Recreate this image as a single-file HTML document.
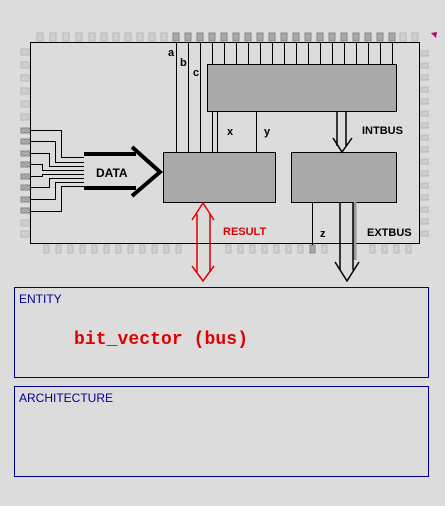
<!DOCTYPE html>
<html><head><style>body{margin:0;background:#dcdcdc;}svg{display:block}</style></head>
<body>
<svg width="445" height="506" viewBox="0 0 445 506" xmlns="http://www.w3.org/2000/svg" font-family="Liberation Sans, sans-serif">
<rect width="445" height="506" fill="#dcdcdc"/>
<g id="pins">
<g fill="#d0d0d0" stroke="#b8b8b8" stroke-width="1">
<rect x="37" y="33" width="6" height="8"/><rect x="50" y="33" width="6" height="8"/><rect x="63" y="33" width="6" height="8"/><rect x="76" y="33" width="6" height="8"/><rect x="89" y="33" width="6" height="8"/><rect x="101" y="33" width="6" height="8"/><rect x="113" y="33" width="6" height="8"/><rect x="125" y="33" width="6" height="8"/><rect x="137" y="33" width="6" height="8"/><rect x="149" y="33" width="6" height="8"/><rect x="161" y="33" width="6" height="8"/>
<rect x="400" y="33" width="6" height="8"/><rect x="412" y="33" width="6" height="8"/>
</g>
<g fill="#a8a8a8" stroke="#888" stroke-width="1">
<rect x="173" y="33" width="6" height="8"/><rect x="185" y="33" width="6" height="8"/><rect x="197" y="33" width="6" height="8"/><rect x="209" y="33" width="6" height="8"/><rect x="221" y="33" width="6" height="8"/><rect x="233" y="33" width="6" height="8"/><rect x="245" y="33" width="6" height="8"/><rect x="257" y="33" width="6" height="8"/><rect x="269" y="33" width="6" height="8"/><rect x="281" y="33" width="6" height="8"/><rect x="293" y="33" width="6" height="8"/><rect x="305" y="33" width="6" height="8"/><rect x="317" y="33" width="6" height="8"/><rect x="329" y="33" width="6" height="8"/><rect x="341" y="33" width="6" height="8"/><rect x="353" y="33" width="6" height="8"/><rect x="365" y="33" width="6" height="8"/><rect x="377" y="33" width="6" height="8"/><rect x="389" y="33" width="6" height="8"/>
</g>
<g fill="#d0d0d0" stroke="#b8b8b8">
<rect x="21" y="49" width="8" height="6"/><rect x="21" y="62" width="8" height="6"/><rect x="21" y="75" width="8" height="6"/><rect x="21" y="88" width="8" height="6"/><rect x="21" y="101" width="8" height="6"/><rect x="21" y="114" width="8" height="6"/><rect x="21" y="220" width="8" height="6"/><rect x="21" y="231" width="8" height="6"/>
</g>
<g fill="#a8a8a8" stroke="#888">
<rect x="21" y="128" width="9" height="5"/><rect x="21" y="139" width="9" height="5"/><rect x="21" y="151" width="9" height="5"/><rect x="21" y="162" width="9" height="5"/><rect x="21" y="174" width="9" height="5"/><rect x="21" y="185" width="9" height="5"/><rect x="21" y="197" width="9" height="5"/><rect x="21" y="208" width="9" height="5"/>
</g>
<g fill="#d0d0d0" stroke="#b8b8b8">
<rect x="421" y="51" width="7" height="5"/><rect x="421" y="63" width="7" height="5"/><rect x="421" y="75" width="7" height="5"/><rect x="421" y="87" width="7" height="5"/><rect x="421" y="99" width="7" height="5"/><rect x="421" y="111" width="7" height="5"/><rect x="421" y="123" width="7" height="5"/><rect x="421" y="135" width="7" height="5"/><rect x="421" y="147" width="7" height="5"/><rect x="421" y="159" width="7" height="5"/><rect x="421" y="171" width="7" height="5"/><rect x="421" y="183" width="7" height="5"/><rect x="421" y="195" width="7" height="5"/><rect x="421" y="207" width="7" height="5"/><rect x="421" y="219" width="7" height="5"/><rect x="421" y="231" width="7" height="5"/>
</g>
<g fill="#d0d0d0" stroke="#b8b8b8">
<rect x="44" y="245" width="5" height="8"/><rect x="56" y="245" width="5" height="8"/><rect x="68" y="245" width="5" height="8"/><rect x="80" y="245" width="5" height="8"/><rect x="92" y="245" width="5" height="8"/><rect x="104" y="245" width="5" height="8"/><rect x="116" y="245" width="5" height="8"/><rect x="128" y="245" width="5" height="8"/><rect x="140" y="245" width="5" height="8"/><rect x="152" y="245" width="5" height="8"/><rect x="164" y="245" width="5" height="8"/><rect x="176" y="245" width="5" height="8"/>
<rect x="226" y="245" width="5" height="8"/><rect x="238" y="245" width="5" height="8"/><rect x="250" y="245" width="5" height="8"/><rect x="262" y="245" width="5" height="8"/><rect x="274" y="245" width="5" height="8"/><rect x="286" y="245" width="5" height="8"/><rect x="298" y="245" width="5" height="8"/><rect x="322" y="245" width="5" height="8"/>
<rect x="370" y="245" width="5" height="8"/><rect x="382" y="245" width="5" height="8"/><rect x="394" y="245" width="5" height="8"/><rect x="406" y="245" width="5" height="8"/>
</g>
<rect x="310" y="245" width="5" height="8" fill="#a8a8a8" stroke="#888"/>
</g>
<polygon points="431,33 437,32 436,38" fill="#c00060"/>
<rect x="30.5" y="42.5" width="389" height="201" fill="#dcdcdc" stroke="#000"/>
<g stroke="#000" stroke-width="1">
<line x1="176.5" y1="42" x2="176.5" y2="152"/><line x1="188.5" y1="42" x2="188.5" y2="152"/><line x1="200.5" y1="42" x2="200.5" y2="152"/><line x1="212.5" y1="42" x2="212.5" y2="152"/>
<line x1="224.5" y1="42" x2="224.5" y2="64"/><line x1="236.5" y1="42" x2="236.5" y2="64"/><line x1="248.5" y1="42" x2="248.5" y2="64"/><line x1="260.5" y1="42" x2="260.5" y2="64"/><line x1="272.5" y1="42" x2="272.5" y2="64"/><line x1="284.5" y1="42" x2="284.5" y2="64"/><line x1="296.5" y1="42" x2="296.5" y2="64"/><line x1="308.5" y1="42" x2="308.5" y2="64"/><line x1="320.5" y1="42" x2="320.5" y2="64"/><line x1="332.5" y1="42" x2="332.5" y2="64"/><line x1="344.5" y1="42" x2="344.5" y2="64"/><line x1="356.5" y1="42" x2="356.5" y2="64"/><line x1="368.5" y1="42" x2="368.5" y2="64"/><line x1="380.5" y1="42" x2="380.5" y2="64"/><line x1="392.5" y1="42" x2="392.5" y2="64"/>
<line x1="217.5" y1="111" x2="217.5" y2="152"/><line x1="256.5" y1="111" x2="256.5" y2="152"/>
<line x1="312.5" y1="202" x2="312.5" y2="245"/>
</g>
<rect x="207.5" y="64.5" width="189" height="47" fill="#a9a9a9" stroke="#000"/>
<rect x="163.5" y="152.5" width="112" height="50" fill="#a9a9a9" stroke="#000"/>
<rect x="291.5" y="152.5" width="105" height="50" fill="#a9a9a9" stroke="#000"/>
<g stroke="#000" fill="none" stroke-width="1">
<polyline points="30,130.5 61.5,130.5 61.5,157.5 84,157.5"/>
<polyline points="30,141.5 55.5,141.5 55.5,162.5 84,162.5"/>
<polyline points="30,153.5 49.5,153.5 49.5,166.5 84,166.5"/>
<polyline points="30,164.5 42.5,164.5 42.5,170.5 84,170.5"/>
<polyline points="30,176.5 42.5,176.5 42.5,174.5 84,174.5"/>
<polyline points="30,187.5 49.5,187.5 49.5,178.5 84,178.5"/>
<polyline points="30,199.5 55.5,199.5 55.5,182.5 84,182.5"/>
<polyline points="30,211.5 61.5,211.5 61.5,186.5 84,186.5"/>
</g>
<g stroke="#000" stroke-width="4" fill="none">
<line x1="84" y1="154" x2="136" y2="154"/><line x1="84" y1="188" x2="136" y2="188"/>
<polyline points="132,147 160,172 132,196"/>
</g>
<text x="96" y="177" font-size="12" font-weight="bold">DATA</text>
<g stroke="#000" stroke-width="1.5" fill="none">
<line x1="337" y1="111" x2="337" y2="146"/><line x1="346" y1="111" x2="346" y2="146"/>
<polyline points="333,138 342,152 352,138"/>
</g>
<line x1="355" y1="202" x2="355" y2="260" stroke="#999" stroke-width="3"/>
<g stroke="#000" stroke-width="1.5" fill="none">
<line x1="340" y1="202" x2="340" y2="270"/><line x1="353" y1="202" x2="353" y2="270"/>
<polyline points="335,262 347,281 359,262"/>
</g>
<g stroke="#e00000" stroke-width="1.5" fill="none">
<line x1="197" y1="214" x2="197" y2="272"/><line x1="210" y1="214" x2="210" y2="272"/>
<polyline points="192,220 203,203 214,220"/>
<polyline points="192,266 203,281 214,266"/>
</g>
<g font-size="11" font-weight="bold">
<text x="168" y="56">a</text><text x="180" y="66">b</text><text x="193" y="76">c</text>
<text x="227" y="135">x</text><text x="264" y="135">y</text>
<text x="362" y="134">INTBUS</text>
<text x="367" y="236">EXTBUS</text>
<text x="320" y="237">z</text>
<text x="223" y="235" fill="#e00000">RESULT</text>
</g>
<rect x="14.5" y="287.5" width="414" height="90" fill="none" stroke="#00008b"/>
<rect x="14.5" y="386.5" width="414" height="90" fill="none" stroke="#00008b"/>
<text x="19" y="303" font-size="12" fill="#00008b">ENTITY</text>
<text x="19" y="402" font-size="12" fill="#00008b">ARCHITECTURE</text>
<text x="74" y="344" font-size="18" font-weight="bold" fill="#e00000" font-family="Liberation Mono, monospace" textLength="174">bit_vector (bus)</text>
</svg>
</body></html>
